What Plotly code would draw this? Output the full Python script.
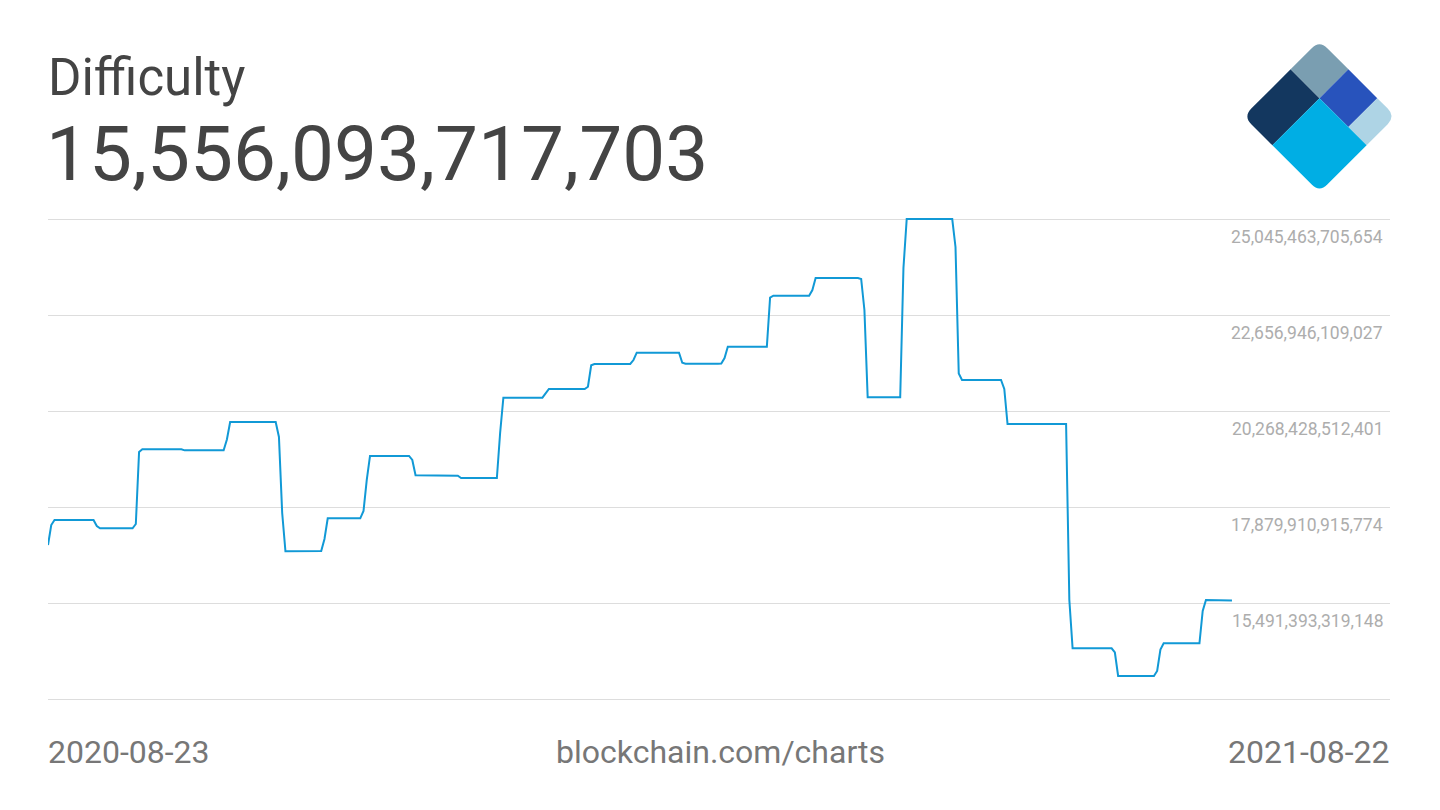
#!/usr/bin/env python3
# Bitcoin difficulty, one year (blockchain.com chart style)

import plotly.graph_objects as go

TITLE = 'Difficulty'
CURRENT_VALUE = '15,556,093,717,703'
SOURCE = 'blockchain.com/charts'

# breakpoints of the (7 day averaged) difficulty line
dates = [
    '2020-08-23', '2020-08-24', '2020-08-25', '2020-09-06', '2020-09-07', '2020-09-08',
    '2020-09-18', '2020-09-19', '2020-09-20', '2020-09-21', '2020-10-03', '2020-10-04',
    '2020-10-16', '2020-10-17', '2020-10-18', '2020-11-01', '2020-11-02', '2020-11-03',
    '2020-11-04', '2020-11-15', '2020-11-16', '2020-11-17', '2020-11-27', '2020-11-28',
    '2020-11-29', '2020-11-30', '2020-12-12', '2020-12-13', '2020-12-14', '2020-12-26',
    '2020-12-27', '2020-12-28', '2021-01-08', '2021-01-09', '2021-01-10', '2021-01-22',
    '2021-01-23', '2021-01-24', '2021-02-04', '2021-02-05', '2021-02-06', '2021-02-07',
    '2021-02-18', '2021-02-19', '2021-02-20', '2021-03-05', '2021-03-06', '2021-03-07',
    '2021-03-17', '2021-03-18', '2021-03-19', '2021-03-20', '2021-04-01', '2021-04-02',
    '2021-04-03', '2021-04-14', '2021-04-15', '2021-04-16', '2021-04-29', '2021-04-30',
    '2021-05-01', '2021-05-02', '2021-05-12', '2021-05-13', '2021-05-14', '2021-05-28',
    '2021-05-29', '2021-05-30', '2021-05-31', '2021-06-12', '2021-06-13', '2021-06-14',
    '2021-07-02', '2021-07-03', '2021-07-04', '2021-07-16', '2021-07-17', '2021-07-18',
    '2021-07-29', '2021-07-30', '2021-07-31', '2021-08-01', '2021-08-12', '2021-08-13',
    '2021-08-14', '2021-08-22',
]
difficulty = [
    16.934e12, 17.432e12, 17.556e12, 17.556e12, 17.407e12, 17.350e12,
    17.350e12, 17.457e12, 19.248e12, 19.315e12, 19.315e12, 19.290e12,
    19.290e12, 19.559e12, 19.995e12, 19.995e12, 19.622e12, 17.731e12,
    16.778e12, 16.785e12, 17.084e12, 17.599e12, 17.599e12, 17.781e12,
    18.552e12, 19.149e12, 19.149e12, 19.050e12, 18.669e12, 18.669e12,
    18.657e12, 18.601e12, 18.601e12, 19.721e12, 20.599e12, 20.599e12,
    20.716e12, 20.816e12, 20.816e12, 20.873e12, 21.405e12, 21.438e12,
    21.438e12, 21.537e12, 21.719e12, 21.719e12, 21.470e12, 21.445e12,
    21.445e12, 21.450e12, 21.587e12, 21.868e12, 21.868e12, 23.092e12,
    23.137e12, 23.137e12, 23.279e12, 23.577e12, 23.577e12, 23.553e12,
    22.781e12, 20.609e12, 20.609e12, 23.826e12, 25.045e12, 25.045e12,
    24.349e12, 21.201e12, 21.040e12, 21.040e12, 20.816e12, 19.945e12,
    19.945e12, 15.566e12, 14.364e12, 14.364e12, 14.260e12, 13.675e12,
    13.675e12, 13.800e12, 14.334e12, 14.489e12, 14.489e12, 15.292e12,
    15.566e12, 15.556e12,
]

# y axis grid values (top one is the period maximum)
tick_values = [13102875722521, 15491393319148, 17879910915774,
               20268428512401, 22656946109027, 25045463705654]
labelled_ticks = tick_values[1:]

X_RANGE = ['2020-08-23', '2021-10-09 14:00']

# page geometry (px); plot area padded 2px so edge grid lines stay visible
W, H = 1440, 810
PAD = 2
M_L, M_R, M_T, M_B = 48, 50, 219 - PAD, 111 - PAD
PLOT_W = W - M_L - M_R
PLOT_H = H - M_T - M_B
GRID_STEP_PX = 96

LINE_COLOR = '#1199d6'
TEXT_DARK = '#444444'
TEXT_GREY = '#777777'
LABEL_GREY = '#adadad'
GRID_COLOR = '#dddddd'


def px_x(x):
    return (x - M_L) / PLOT_W


def px_y(y):
    return (H - M_B - y) / PLOT_H


def rounded_path(points, rounded, r):
    # points in px, rounded = indexes of corners to round
    n = len(points)
    path = ''
    for i, (x, y) in enumerate(points):
        if i in rounded:
            px0, py0 = points[i - 1]
            px1, py1 = points[(i + 1) % n]
            d0 = ((px0 - x) ** 2 + (py0 - y) ** 2) ** 0.5
            d1 = ((px1 - x) ** 2 + (py1 - y) ** 2) ** 0.5
            sx, sy = x + r * (px0 - x) / d0, y + r * (py0 - y) / d0
            ex, ey = x + r * (px1 - x) / d1, y + r * (py1 - y) / d1
            path += ('M' if i == 0 else ' L') + f' {px_x(sx):.5f},{px_y(sy):.5f}'
            path += f' Q {px_x(x):.5f},{px_y(y):.5f} {px_x(ex):.5f},{px_y(ey):.5f}'
        else:
            path += ('M' if i == 0 else ' L') + f' {px_x(x):.5f},{px_y(y):.5f}'
    return path + ' Z'


def logo_shapes():
    cx, cy, h = 1319.5, 116.4, 76
    L, T, B = (cx - h, cy), (cx, cy - h), (cx, cy + h)

    def p(a, b):
        return (L[0] + a * (T[0] - L[0]) + b * (B[0] - L[0]),
                L[1] + a * (T[1] - L[1]) + b * (B[1] - L[1]))

    sa, sb1, sb2 = 0.62, 0.38, 0.76
    parts = [
        # (a0, a1, b0, b1, colour, rounded outer corner index)
        (0, sa, 0, sb1, '#13375f', 0),
        (sa, 1, 0, sb1, '#7a9eb1', 1),
        (sa, 1, sb1, sb2, '#2853bc', None),
        (sa, 1, sb2, 1, '#aed4e5', 2),
        (0, sa, sb1, 1, '#00aee4', 3),
    ]
    shapes = []
    for a0, a1, b0, b1, color, rc in parts:
        pts = [p(a0, b0), p(a1, b0), p(a1, b1), p(a0, b1)]
        rnd = [] if rc is None else [rc]
        shapes.append(dict(type='path', xref='paper', yref='paper',
                           path=rounded_path(pts, rnd, 11), fillcolor=color,
                           line=dict(width=0), layer='above'))
    return shapes


def main():
    fig = go.Figure()
    fig.add_trace(go.Scatter(x=dates, y=difficulty, mode='lines',
                             line=dict(color=LINE_COLOR, width=2),
                             hoverinfo='skip', showlegend=False))

    annotations = []
    for v in labelled_ticks:
        annotations.append(dict(x=1, y=v, xref='paper', yref='y', xanchor='right',
                                yanchor='middle', xshift=-5, yshift=-18, showarrow=False,
                                text=f'{v:,}', font=dict(size=17.5, color=LABEL_GREY)))
    annotations += [
        dict(x=0, y=px_y(77), xref='paper', yref='paper', xanchor='left', yanchor='middle',
             xshift=-2, showarrow=False, text=TITLE, font=dict(size=51, color=TEXT_DARK)),
        dict(x=0, y=px_y(154), xref='paper', yref='paper', xanchor='left', yanchor='middle',
             xshift=-4, showarrow=False, text=CURRENT_VALUE, font=dict(size=76.5, color=TEXT_DARK)),
        dict(x=0, y=px_y(752), xref='paper', yref='paper', xanchor='left', yanchor='middle',
             xshift=-2, showarrow=False, text=dates[0], font=dict(size=32, color=TEXT_GREY)),
        dict(x=px_x(720), y=px_y(752), xref='paper', yref='paper', xanchor='center',
             yanchor='middle', showarrow=False, text=SOURCE, font=dict(size=32, color=TEXT_GREY)),
        dict(x=1, y=px_y(752), xref='paper', yref='paper', xanchor='right', yanchor='middle',
             xshift=2, showarrow=False, text=dates[-1], font=dict(size=32, color=TEXT_GREY)),
    ]

    # keep the same value-per-pixel scale while padding the range
    step = tick_values[1] - tick_values[0]
    pad_val = step * PAD / GRID_STEP_PX
    fig.update_layout(
        width=W, height=H,
        margin=dict(l=M_L, r=M_R, t=M_T, b=M_B, pad=0),
        paper_bgcolor='white', plot_bgcolor='white',
        font=dict(family='Roboto, sans-serif'),
        xaxis=dict(type='date', range=X_RANGE, showgrid=False, showticklabels=False,
                   zeroline=False, showline=False, ticks=''),
        yaxis=dict(range=[tick_values[0] - pad_val, tick_values[-1] + pad_val],
                   tickvals=tick_values, showticklabels=False, showgrid=True,
                   gridcolor=GRID_COLOR, gridwidth=1, zeroline=False, showline=False, ticks=''),
        annotations=annotations,
        shapes=logo_shapes(),
    )
    fig.write_html('out.html', config={'displayModeBar': False},
                   post_script="document.body.style.margin='0';")


if __name__ == '__main__':
    main()
